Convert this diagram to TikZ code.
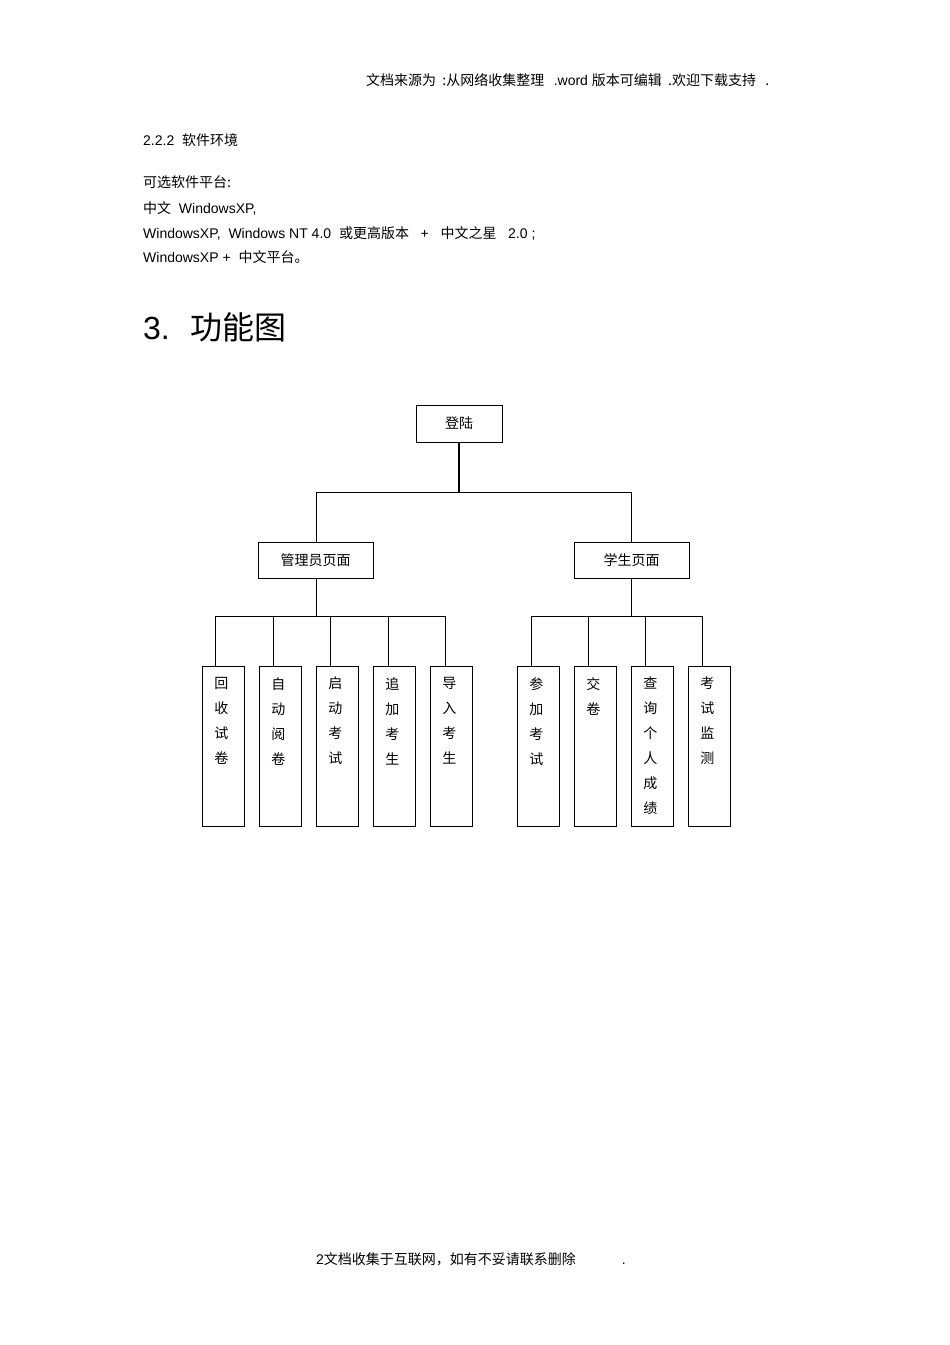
\documentclass[tikz,border=0pt]{standalone}
\usepackage{fontspec}
\setmainfont{Liberation Sans}
\newfontfamily\cjk{Noto Sans CJK SC}
\begin{document}
\begin{tikzpicture}[x=1pt,y=-1pt,
  box/.style={draw,line width=0.7pt,inner sep=0pt,font=\cjk\fontsize{14}{16}\selectfont},
  leaf/.style={draw,line width=0.7pt,minimum width=42pt,minimum height=160pt,anchor=north west,inner sep=0pt},
  txt/.style={anchor=west,inner sep=0pt,font=\fontsize{14}{16}\selectfont},
  conn/.style={line width=0.7pt}]
\useasboundingbox (0,0) rectangle (950,1345);
\node[txt] (hdr) at (366,80) {\cjk 文档来源为 \ :从网络收集整理 \ \ \rmfamily.word \cjk 版本可编辑 \ .欢迎下载支持 \ \ .};
\node[txt] (s1) at (143,140) {2.2.2 \ {\cjk 软件环境}};
\node[txt] (s2) at (143,182) {\cjk 可选软件平台:};
\node[txt] (s3) at (143,208) {{\cjk 中文} \ WindowsXP,};
\node[txt] (s4) at (143,233) {WindowsXP, \ Windows NT 4.0 \ {\cjk 或更高版本} \ \ + \ \ {\cjk 中文之星} \ \ 2.0 ;};
\node[txt] (s5) at (143,257) {WindowsXP + \ {\cjk 中文平台。}};
\node[txt,font=\fontsize{32}{36}\selectfont] (h3) at (143,327) {3. \ {\cjk 功能图}};

\node[box,minimum width=86pt,minimum height=37pt] (root) at (459,423.5) {登陆};
\node[box,minimum width=115pt,minimum height=36pt] (adm) at (315.5,560) {管理员页面};
\node[box,minimum width=115pt,minimum height=36pt] (stu) at (631.5,560) {学生页面};
\draw[line width=1.6pt] (root.south) -- (459,492);
\draw[conn] (316,492) -- (631,492);
\draw[conn] (316,492) -- (adm.north -| 316,0);
\draw[conn] (631,492) -- (stu.north -| 631,0);

\foreach \n/\x/\t in {a1/202/{回\\收\\试\\卷},a2/259/{自\\动\\阅\\卷},a3/316/{启\\动\\考\\试},a4/373/{追\\加\\考\\生},a5/430/{导\\入\\考\\生},
  b1/517/{参\\加\\考\\试},b2/574/{交\\卷},b3/631/{查\\询\\个\\人\\成\\绩},b4/688/{考\\试\\监\\测}}{
  \node[leaf] (\n) at (\x,666) {};
  \node[anchor=north,align=center,font=\cjk\fontsize{14}{25}\selectfont,inner sep=0pt] at ([xshift=-2pt,yshift=-11pt]\n.north) {\t};
}
\draw[conn] (adm.south -| 316,0) -- (316,616);
\draw[conn] (stu.south -| 631,0) -- (631,616);
\draw[conn] (215,616) -- (445,616);
\draw[conn] (531,616) -- (702,616);
\foreach \n/\x in {a1/215,a2/273,a3/330,a4/388,a5/445,b1/531,b2/588,b3/645,b4/702}
  \draw[conn] (\x,616) -- (\x,666);

\node[txt] (ftr) at (316,1259) {2{\cjk 文档收集于互联网，如有不妥请联系删除} \qquad\quad .};
\end{tikzpicture}
\end{document}
